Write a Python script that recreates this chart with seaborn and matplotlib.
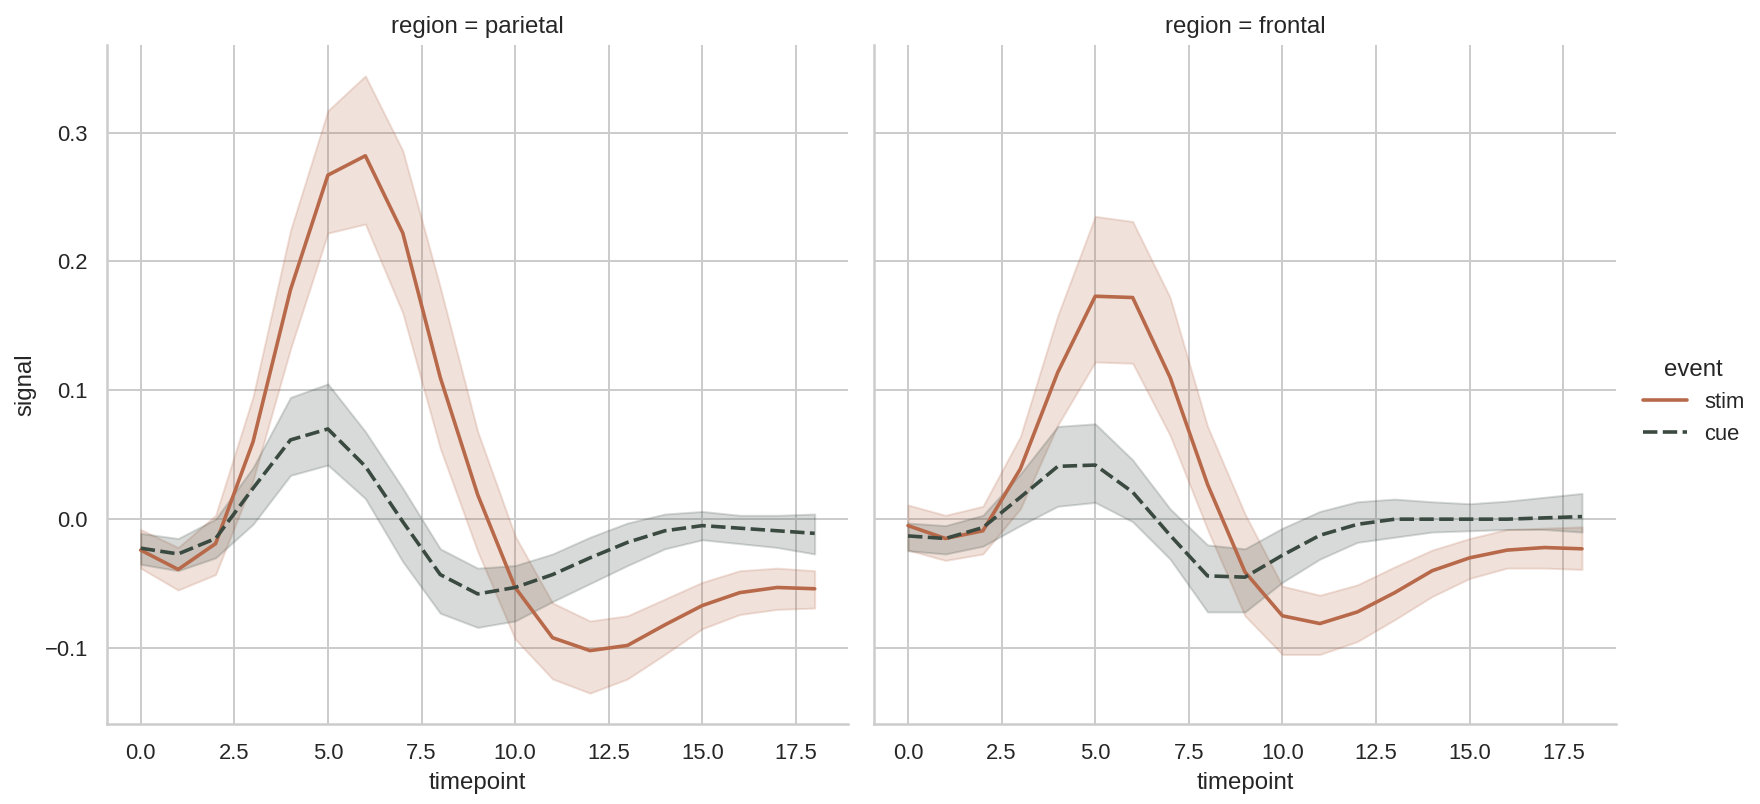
import numpy as np
import pandas as pd
import seaborn as sns
import matplotlib
matplotlib.use("Agg")
import matplotlib.pyplot as plt

timepoints = list(range(19))
regions = ["parietal", "frontal"]
events = ["stim", "cue"]

# parietal
par_stim_mean = [-0.024, -0.039, -0.019, 0.060, 0.178, 0.267, 0.282, 0.222, 0.110, 0.019,
                 -0.053, -0.092, -0.102, -0.098, -0.082, -0.067, -0.057, -0.053, -0.054]
par_stim_lo = [-0.038, -0.055, -0.043, 0.030, 0.132, 0.222, 0.229, 0.160, 0.055, -0.025,
               -0.093, -0.124, -0.135, -0.124, -0.105, -0.085, -0.074, -0.070, -0.069]
par_stim_hi = [-0.008, -0.022, 0.003, 0.095, 0.224, 0.317, 0.344, 0.286, 0.180, 0.068,
               -0.013, -0.065, -0.079, -0.075, -0.062, -0.049, -0.040, -0.038, -0.040]
par_cue_mean = [-0.0225, -0.027, -0.015, 0.024, 0.0615, 0.070, 0.041, -0.002, -0.043, -0.058,
                -0.053, -0.043, -0.030, -0.018, -0.009, -0.005, -0.007, -0.009, -0.011]
par_cue_lo = [-0.035, -0.040, -0.030, -0.004, 0.034, 0.042, 0.016, -0.033, -0.073, -0.084,
              -0.079, -0.064, -0.050, -0.036, -0.023, -0.016, -0.019, -0.022, -0.027]
par_cue_hi = [-0.011, -0.015, 0.000, 0.040, 0.0945, 0.105, 0.068, 0.024, -0.023, -0.038,
              -0.036, -0.027, -0.014, -0.003, 0.004, 0.006, 0.003, 0.003, 0.004]

# frontal
fro_stim_mean = [-0.005, -0.015, -0.009, 0.039, 0.114, 0.173, 0.172, 0.110, 0.027, -0.041,
                 -0.075, -0.081, -0.072, -0.057, -0.040, -0.030, -0.024, -0.022, -0.023]
fro_stim_lo = [-0.024, -0.032, -0.027, 0.008, 0.073, 0.122, 0.121, 0.065, -0.008, -0.075,
               -0.105, -0.105, -0.095, -0.078, -0.060, -0.046, -0.038, -0.038, -0.039]
fro_stim_hi = [0.011, 0.003, 0.010, 0.064, 0.158, 0.235, 0.231, 0.172, 0.072, 0.004,
               -0.052, -0.059, -0.051, -0.037, -0.024, -0.015, -0.008, -0.007, -0.006]
fro_cue_mean = [-0.013, -0.015, -0.0065, 0.017, 0.041, 0.042, 0.021, -0.0125, -0.044, -0.045,
                -0.028, -0.0125, -0.004, 0.000, 0.000, 0.000, 0.000, 0.001, 0.002]
fro_cue_lo = [-0.0245, -0.027, -0.021, -0.005, 0.010, 0.013, -0.002, -0.031, -0.072, -0.072,
              -0.049, -0.031, -0.018, -0.014, -0.010, -0.009, -0.008, -0.008, -0.010]
fro_cue_hi = [-0.003, -0.005, 0.003, 0.035, 0.072, 0.074, 0.046, 0.008, -0.020, -0.023,
              -0.007, 0.006, 0.0135, 0.0156, 0.0135, 0.012, 0.014, 0.017, 0.020]

series = {
    ("parietal", "stim"): (par_stim_lo, par_stim_mean, par_stim_hi),
    ("parietal", "cue"): (par_cue_lo, par_cue_mean, par_cue_hi),
    ("frontal", "stim"): (fro_stim_lo, fro_stim_mean, fro_stim_hi),
    ("frontal", "cue"): (fro_cue_lo, fro_cue_mean, fro_cue_hi),
}

# long table: 3 rows per point (low, centre, high); median + full range gives line + band
rows = []
for ev in events:
    for reg in regions:
        for vals in series[(reg, ev)]:
            for t, v in zip(timepoints, vals):
                rows.append({"timepoint": t, "signal": v, "region": reg, "event": ev})
df = pd.DataFrame(rows)

sns.set_theme(style="whitegrid")
plt.rcParams["font.family"] = ["Liberation Sans", "DejaVu Sans"]

palette = {"stim": "#b7694a", "cue": "#3a4a40"}
g = sns.relplot(data=df, kind="line", x="timepoint", y="signal", col="region",
                col_order=regions, hue="event", style="event", hue_order=events,
                style_order=events, palette=palette, estimator="median",
                errorbar=("pi", 100), height=5, aspect=1, linewidth=1.8)

g.figure.set_size_inches(1760 / 144, 804 / 144)
g.figure.subplots_adjust(left=0.0608, right=0.918, bottom=0.0995, top=0.944, wspace=0.035)
sns.move_legend(g, "center left", bbox_to_anchor=(0.922, 0.5), frameon=False)

g.figure.savefig("out.png", dpi=144)
